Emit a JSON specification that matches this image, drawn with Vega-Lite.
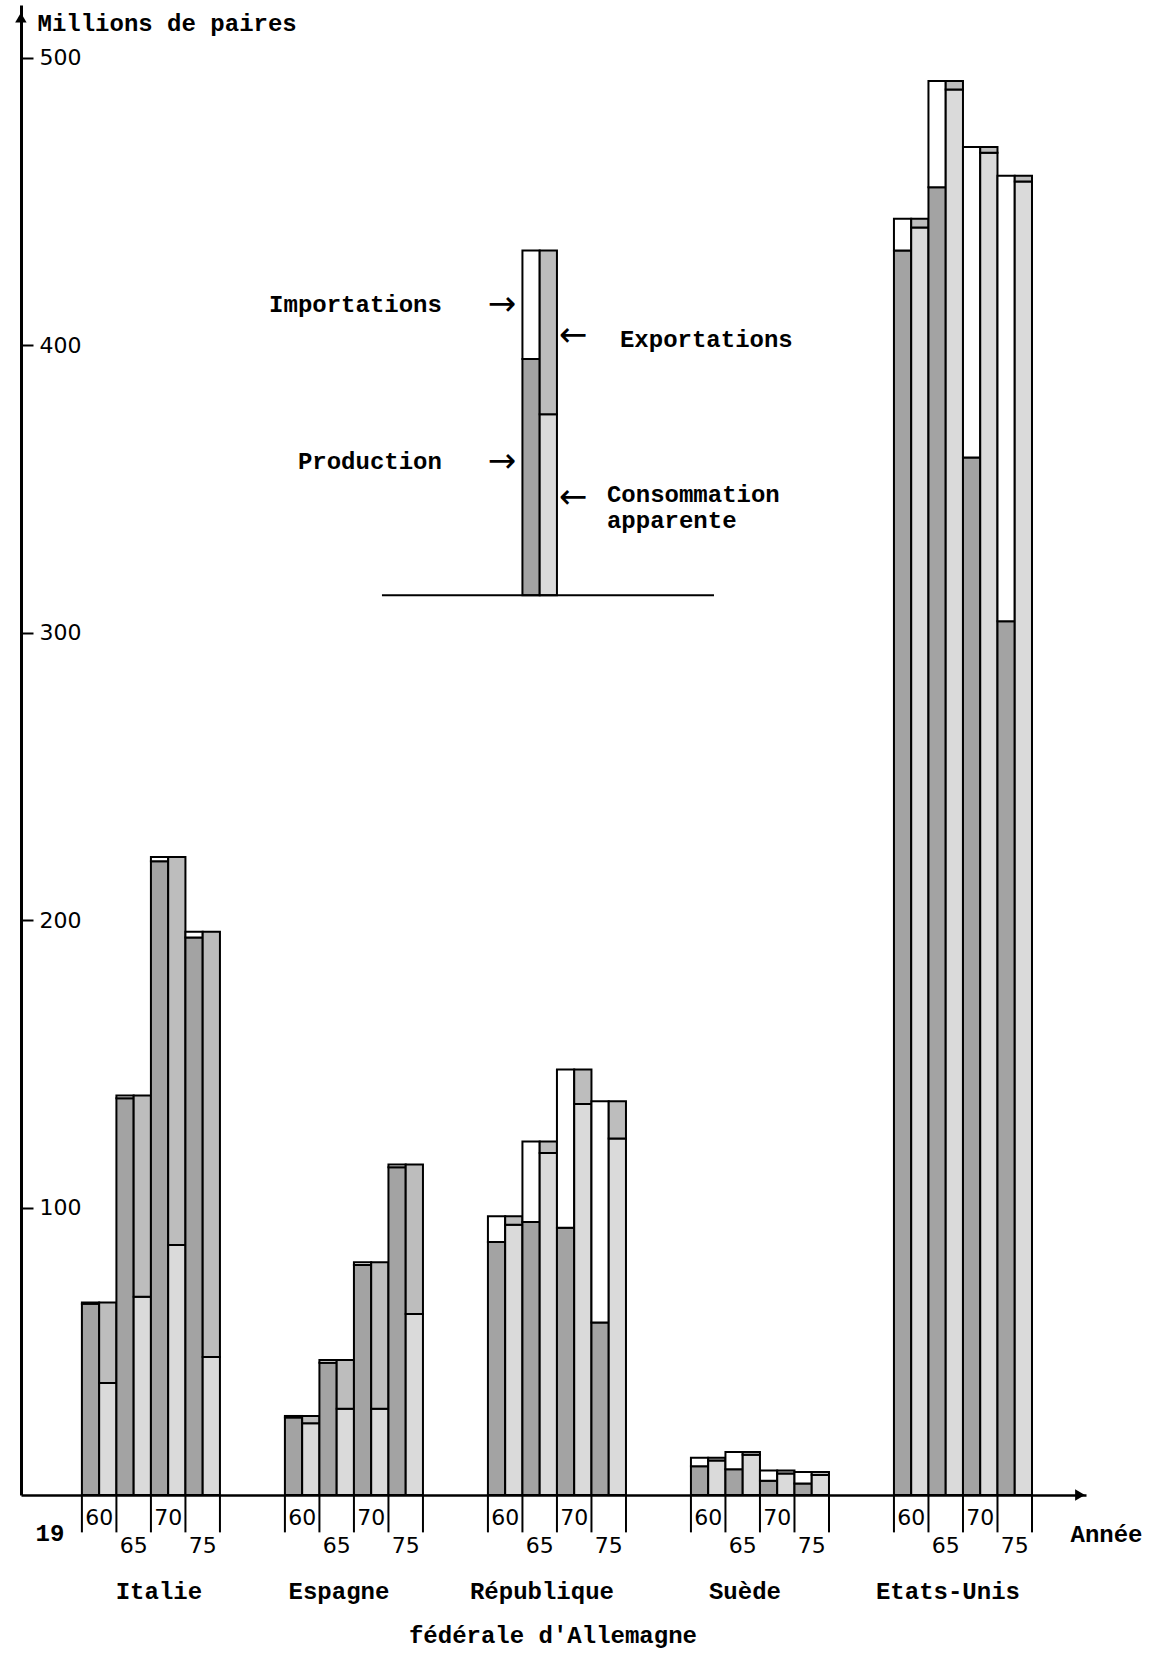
{
  "$schema": "https://vega.github.io/schema/vega-lite/v6.json",
  "width": 1065,
  "height": 1490,
  "autosize": {"type": "none"},
  "padding": {"left": 21, "top": 5, "right": 65, "bottom": 158},
  "background": "white",
  "config": {"view": {"stroke": null}, "axis": {"grid": false}},
  "datasets": {
    "bars": [
      {"country": "Italie", "slot": "1960 P", "component": "Production", "part": "a", "value": 66.5},
      {"country": "Italie", "slot": "1960 P", "component": "Importations", "part": "b", "value": 0.5},
      {"country": "Italie", "slot": "1960 C", "component": "Consommation apparente", "part": "a", "value": 39},
      {"country": "Italie", "slot": "1960 C", "component": "Exportations", "part": "b", "value": 28},
      {"country": "Italie", "slot": "1965 P", "component": "Production", "part": "a", "value": 138},
      {"country": "Italie", "slot": "1965 P", "component": "Importations", "part": "b", "value": 1},
      {"country": "Italie", "slot": "1965 C", "component": "Consommation apparente", "part": "a", "value": 69},
      {"country": "Italie", "slot": "1965 C", "component": "Exportations", "part": "b", "value": 70},
      {"country": "Italie", "slot": "1970 P", "component": "Production", "part": "a", "value": 220.5},
      {"country": "Italie", "slot": "1970 P", "component": "Importations", "part": "b", "value": 1.5},
      {"country": "Italie", "slot": "1970 C", "component": "Consommation apparente", "part": "a", "value": 87},
      {"country": "Italie", "slot": "1970 C", "component": "Exportations", "part": "b", "value": 135},
      {"country": "Italie", "slot": "1975 P", "component": "Production", "part": "a", "value": 194},
      {"country": "Italie", "slot": "1975 P", "component": "Importations", "part": "b", "value": 2},
      {"country": "Italie", "slot": "1975 C", "component": "Consommation apparente", "part": "a", "value": 48},
      {"country": "Italie", "slot": "1975 C", "component": "Exportations", "part": "b", "value": 148},

      {"country": "Espagne", "slot": "1960 P", "component": "Production", "part": "a", "value": 27},
      {"country": "Espagne", "slot": "1960 P", "component": "Importations", "part": "b", "value": 0.5},
      {"country": "Espagne", "slot": "1960 C", "component": "Consommation apparente", "part": "a", "value": 25},
      {"country": "Espagne", "slot": "1960 C", "component": "Exportations", "part": "b", "value": 2.5},
      {"country": "Espagne", "slot": "1965 P", "component": "Production", "part": "a", "value": 46},
      {"country": "Espagne", "slot": "1965 P", "component": "Importations", "part": "b", "value": 1},
      {"country": "Espagne", "slot": "1965 C", "component": "Consommation apparente", "part": "a", "value": 30},
      {"country": "Espagne", "slot": "1965 C", "component": "Exportations", "part": "b", "value": 17},
      {"country": "Espagne", "slot": "1970 P", "component": "Production", "part": "a", "value": 80},
      {"country": "Espagne", "slot": "1970 P", "component": "Importations", "part": "b", "value": 1},
      {"country": "Espagne", "slot": "1970 C", "component": "Consommation apparente", "part": "a", "value": 30},
      {"country": "Espagne", "slot": "1970 C", "component": "Exportations", "part": "b", "value": 51},
      {"country": "Espagne", "slot": "1975 P", "component": "Production", "part": "a", "value": 114},
      {"country": "Espagne", "slot": "1975 P", "component": "Importations", "part": "b", "value": 1},
      {"country": "Espagne", "slot": "1975 C", "component": "Consommation apparente", "part": "a", "value": 63},
      {"country": "Espagne", "slot": "1975 C", "component": "Exportations", "part": "b", "value": 52},

      {"country": "République fédérale d'Allemagne", "slot": "1960 P", "component": "Production", "part": "a", "value": 88},
      {"country": "République fédérale d'Allemagne", "slot": "1960 P", "component": "Importations", "part": "b", "value": 9},
      {"country": "République fédérale d'Allemagne", "slot": "1960 C", "component": "Consommation apparente", "part": "a", "value": 94},
      {"country": "République fédérale d'Allemagne", "slot": "1960 C", "component": "Exportations", "part": "b", "value": 3},
      {"country": "République fédérale d'Allemagne", "slot": "1965 P", "component": "Production", "part": "a", "value": 95},
      {"country": "République fédérale d'Allemagne", "slot": "1965 P", "component": "Importations", "part": "b", "value": 28},
      {"country": "République fédérale d'Allemagne", "slot": "1965 C", "component": "Consommation apparente", "part": "a", "value": 119},
      {"country": "République fédérale d'Allemagne", "slot": "1965 C", "component": "Exportations", "part": "b", "value": 4},
      {"country": "République fédérale d'Allemagne", "slot": "1970 P", "component": "Production", "part": "a", "value": 93},
      {"country": "République fédérale d'Allemagne", "slot": "1970 P", "component": "Importations", "part": "b", "value": 55},
      {"country": "République fédérale d'Allemagne", "slot": "1970 C", "component": "Consommation apparente", "part": "a", "value": 136},
      {"country": "République fédérale d'Allemagne", "slot": "1970 C", "component": "Exportations", "part": "b", "value": 12},
      {"country": "République fédérale d'Allemagne", "slot": "1975 P", "component": "Production", "part": "a", "value": 60},
      {"country": "République fédérale d'Allemagne", "slot": "1975 P", "component": "Importations", "part": "b", "value": 77},
      {"country": "République fédérale d'Allemagne", "slot": "1975 C", "component": "Consommation apparente", "part": "a", "value": 124},
      {"country": "République fédérale d'Allemagne", "slot": "1975 C", "component": "Exportations", "part": "b", "value": 13},

      {"country": "Suède", "slot": "1960 P", "component": "Production", "part": "a", "value": 10},
      {"country": "Suède", "slot": "1960 P", "component": "Importations", "part": "b", "value": 3},
      {"country": "Suède", "slot": "1960 C", "component": "Consommation apparente", "part": "a", "value": 12},
      {"country": "Suède", "slot": "1960 C", "component": "Exportations", "part": "b", "value": 1},
      {"country": "Suède", "slot": "1965 P", "component": "Production", "part": "a", "value": 9},
      {"country": "Suède", "slot": "1965 P", "component": "Importations", "part": "b", "value": 6},
      {"country": "Suède", "slot": "1965 C", "component": "Consommation apparente", "part": "a", "value": 14},
      {"country": "Suède", "slot": "1965 C", "component": "Exportations", "part": "b", "value": 1},
      {"country": "Suède", "slot": "1970 P", "component": "Production", "part": "a", "value": 5},
      {"country": "Suède", "slot": "1970 P", "component": "Importations", "part": "b", "value": 3.5},
      {"country": "Suède", "slot": "1970 C", "component": "Consommation apparente", "part": "a", "value": 7.5},
      {"country": "Suède", "slot": "1970 C", "component": "Exportations", "part": "b", "value": 1},
      {"country": "Suède", "slot": "1975 P", "component": "Production", "part": "a", "value": 4},
      {"country": "Suède", "slot": "1975 P", "component": "Importations", "part": "b", "value": 4},
      {"country": "Suède", "slot": "1975 C", "component": "Consommation apparente", "part": "a", "value": 7},
      {"country": "Suède", "slot": "1975 C", "component": "Exportations", "part": "b", "value": 1},

      {"country": "Etats-Unis", "slot": "1960 P", "component": "Production", "part": "a", "value": 433},
      {"country": "Etats-Unis", "slot": "1960 P", "component": "Importations", "part": "b", "value": 11},
      {"country": "Etats-Unis", "slot": "1960 C", "component": "Consommation apparente", "part": "a", "value": 441},
      {"country": "Etats-Unis", "slot": "1960 C", "component": "Exportations", "part": "b", "value": 3},
      {"country": "Etats-Unis", "slot": "1965 P", "component": "Production", "part": "a", "value": 455},
      {"country": "Etats-Unis", "slot": "1965 P", "component": "Importations", "part": "b", "value": 37},
      {"country": "Etats-Unis", "slot": "1965 C", "component": "Consommation apparente", "part": "a", "value": 489},
      {"country": "Etats-Unis", "slot": "1965 C", "component": "Exportations", "part": "b", "value": 3},
      {"country": "Etats-Unis", "slot": "1970 P", "component": "Production", "part": "a", "value": 361},
      {"country": "Etats-Unis", "slot": "1970 P", "component": "Importations", "part": "b", "value": 108},
      {"country": "Etats-Unis", "slot": "1970 C", "component": "Consommation apparente", "part": "a", "value": 467},
      {"country": "Etats-Unis", "slot": "1970 C", "component": "Exportations", "part": "b", "value": 2},
      {"country": "Etats-Unis", "slot": "1975 P", "component": "Production", "part": "a", "value": 304},
      {"country": "Etats-Unis", "slot": "1975 P", "component": "Importations", "part": "b", "value": 155},
      {"country": "Etats-Unis", "slot": "1975 C", "component": "Consommation apparente", "part": "a", "value": 457},
      {"country": "Etats-Unis", "slot": "1975 C", "component": "Exportations", "part": "b", "value": 2}
    ],
    "legendBars": [
      {"country": "République fédérale d'Allemagne", "slot": "1965 P", "component": "Production", "lo": 313, "hi": 395.2},
      {"country": "République fédérale d'Allemagne", "slot": "1965 P", "component": "Importations", "lo": 395.2, "hi": 433},
      {"country": "République fédérale d'Allemagne", "slot": "1965 C", "component": "Consommation apparente", "lo": 313, "hi": 376},
      {"country": "République fédérale d'Allemagne", "slot": "1965 C", "component": "Exportations", "lo": 376, "hi": 433}
    ],
    "legendLeft": [{"label": "Importations", "v": 414}, {"label": "Production", "v": 359.5}],
    "legendExp": [{"label": "Exportations", "v": 402}],
    "legendCons": [{"label": "Consommation", "v": 348}, {"label": "apparente", "v": 338.7}],
    "arrowsR": [{"v": 414}, {"v": 359.5}],
    "arrowsL": [{"v": 403.3}, {"v": 346.9}],
    "countries": [
      {"country": "Italie", "label": "Italie"},
      {"country": "Espagne", "label": "Espagne"},
      {"country": "République fédérale d'Allemagne", "label": "République"},
      {"country": "Suède", "label": "Suède"},
      {"country": "Etats-Unis", "label": "Etats-Unis"}
    ],
    "countriesRest": [
      {"country": "Espagne", "label": "Espagne"},
      {"country": "République fédérale d'Allemagne", "label": "République"},
      {"country": "Suède", "label": "Suède"},
      {"country": "Etats-Unis", "label": "Etats-Unis"}
    ]
  },
  "layer": [
    {
      "data": {"name": "bars"},
      "mark": {"type": "bar", "stroke": "black", "strokeWidth": 2},
      "encoding": {
        "x": {
          "field": "country", "type": "nominal",
          "scale": {"type": "band", "domain": ["Italie", "Espagne", "République fédérale d'Allemagne", "Suède", "Etats-Unis"], "paddingInner": 0.32, "paddingOuter": 0.283, "align": 0.53},
          "axis": {"title": "Année", "titleX": 1049, "titleY": 39, "titleAlign": "left", "titleBaseline": "middle", "titleFont": "Liberation Mono", "titleFontSize": 24, "titleFontWeight": "bold", "titleColor": "black", "labels": false, "ticks": false, "domainColor": "black", "domainWidth": 2.5}
        },
        "xOffset": {
          "field": "slot", "type": "nominal",
          "scale": {"domain": ["1960 P", "1960 C", "1965 P", "1965 C", "1970 P", "1970 C", "1975 P", "1975 C"], "paddingInner": 0, "paddingOuter": 0}
        },
        "y": {
          "field": "value", "type": "quantitative", "stack": "zero",
          "scale": {"domain": [0, 518.4], "nice": false, "zero": false},
          "axis": {"title": "Millions de paires", "titleAngle": 0, "titleAlign": "left", "titleBaseline": "middle", "titleX": 16, "titleY": 18, "titleFont": "Liberation Mono", "titleFontSize": 24, "titleFontWeight": "bold", "titleColor": "black", "values": [100, 200, 300, 400, 500], "labelFont": "DejaVu Sans", "labelFontSize": 22, "labelColor": "black", "labelAlign": "left", "labelBaseline": "middle", "labelPadding": -6, "tickSize": -12, "tickColor": "black", "tickWidth": 2, "domainColor": "black", "domainWidth": 3}
        },
        "color": {
          "field": "component", "type": "nominal",
          "scale": {"domain": ["Production", "Importations", "Consommation apparente", "Exportations"], "range": ["#a3a3a3", "#ffffff", "#dadada", "#bdbdbd"]},
          "legend": null
        },
        "order": {"field": "part", "sort": "ascending"}
      }
    },
    {
      "data": {"name": "legendBars"},
      "mark": {"type": "bar", "stroke": "black", "strokeWidth": 2},
      "encoding": {
        "x": {"field": "country", "type": "nominal"},
        "xOffset": {"field": "slot", "type": "nominal"},
        "y": {"field": "lo", "type": "quantitative", "scale": {"domain": [0, 518.4], "nice": false, "zero": false}},
        "y2": {"field": "hi"},
        "color": {"field": "component", "type": "nominal", "legend": null}
      }
    },
    {
      "data": {"values": [{"a": "Espagne", "b": "Suède", "v": 313}]},
      "mark": {"type": "rule", "color": "black", "strokeWidth": 2},
      "encoding": {
        "x": {"field": "a", "type": "nominal", "bandPosition": 0.703},
        "x2": {"field": "b", "bandPosition": 0.167},
        "y": {"field": "v", "type": "quantitative", "scale": {"domain": [0, 518.4], "nice": false, "zero": false}}
      }
    },
    {
      "data": {"name": "legendLeft"},
      "mark": {"type": "text", "align": "right", "baseline": "middle", "dx": -46, "font": "Liberation Mono", "fontSize": 24, "fontWeight": "bold", "color": "black"},
      "encoding": {
        "x": {"datum": "République fédérale d'Allemagne", "type": "nominal", "bandPosition": 0},
        "y": {"field": "v", "type": "quantitative", "scale": {"domain": [0, 518.4], "nice": false, "zero": false}},
        "text": {"field": "label"}
      }
    },
    {
      "data": {"name": "legendExp"},
      "mark": {"type": "text", "align": "left", "baseline": "middle", "dx": 132, "font": "Liberation Mono", "fontSize": 24, "fontWeight": "bold", "color": "black"},
      "encoding": {
        "x": {"datum": "République fédérale d'Allemagne", "type": "nominal", "bandPosition": 0},
        "y": {"field": "v", "type": "quantitative", "scale": {"domain": [0, 518.4], "nice": false, "zero": false}},
        "text": {"field": "label"}
      }
    },
    {
      "data": {"name": "legendCons"},
      "mark": {"type": "text", "align": "left", "baseline": "middle", "dx": 119, "font": "Liberation Mono", "fontSize": 24, "fontWeight": "bold", "color": "black"},
      "encoding": {
        "x": {"datum": "République fédérale d'Allemagne", "type": "nominal", "bandPosition": 0},
        "y": {"field": "v", "type": "quantitative", "scale": {"domain": [0, 518.4], "nice": false, "zero": false}},
        "text": {"field": "label"}
      }
    },
    {
      "data": {"name": "arrowsR"},
      "mark": {"type": "text", "align": "center", "baseline": "middle", "dx": 14, "font": "DejaVu Sans", "fontSize": 34, "color": "black"},
      "encoding": {
        "x": {"datum": "République fédérale d'Allemagne", "type": "nominal", "bandPosition": 0},
        "y": {"field": "v", "type": "quantitative", "scale": {"domain": [0, 518.4], "nice": false, "zero": false}},
        "text": {"value": "→"}
      }
    },
    {
      "data": {"name": "arrowsL"},
      "mark": {"type": "text", "align": "center", "baseline": "middle", "dx": 85, "font": "DejaVu Sans", "fontSize": 34, "color": "black"},
      "encoding": {
        "x": {"datum": "République fédérale d'Allemagne", "type": "nominal", "bandPosition": 0},
        "y": {"field": "v", "type": "quantitative", "scale": {"domain": [0, 518.4], "nice": false, "zero": false}},
        "text": {"value": "←"}
      }
    },
    {
      "data": {"name": "countries"},
      "mark": {"type": "rule", "color": "black", "strokeWidth": 2},
      "encoding": {"x": {"field": "country", "type": "nominal", "bandPosition": 0}, "y": {"datum": 0, "type": "quantitative", "scale": {"domain": [0, 518.4], "nice": false, "zero": false}}, "y2": {"datum": -13}}
    },
    {
      "data": {"name": "countries"},
      "mark": {"type": "rule", "color": "black", "strokeWidth": 2},
      "encoding": {"x": {"field": "country", "type": "nominal", "bandPosition": 0.25}, "y": {"datum": 0, "type": "quantitative", "scale": {"domain": [0, 518.4], "nice": false, "zero": false}}, "y2": {"datum": -13}}
    },
    {
      "data": {"name": "countries"},
      "mark": {"type": "rule", "color": "black", "strokeWidth": 2},
      "encoding": {"x": {"field": "country", "type": "nominal", "bandPosition": 0.5}, "y": {"datum": 0, "type": "quantitative", "scale": {"domain": [0, 518.4], "nice": false, "zero": false}}, "y2": {"datum": -13}}
    },
    {
      "data": {"name": "countries"},
      "mark": {"type": "rule", "color": "black", "strokeWidth": 2},
      "encoding": {"x": {"field": "country", "type": "nominal", "bandPosition": 0.75}, "y": {"datum": 0, "type": "quantitative", "scale": {"domain": [0, 518.4], "nice": false, "zero": false}}, "y2": {"datum": -13}}
    },
    {
      "data": {"name": "countries"},
      "mark": {"type": "rule", "color": "black", "strokeWidth": 2},
      "encoding": {"x": {"field": "country", "type": "nominal", "bandPosition": 1}, "y": {"datum": 0, "type": "quantitative", "scale": {"domain": [0, 518.4], "nice": false, "zero": false}}, "y2": {"datum": -13}}
    },
    {
      "data": {"name": "countries"},
      "mark": {"type": "text", "align": "center", "baseline": "middle", "font": "DejaVu Sans", "fontSize": 22, "color": "black"},
      "encoding": {"x": {"field": "country", "type": "nominal", "bandPosition": 0.125}, "y": {"datum": -8, "type": "quantitative", "scale": {"domain": [0, 518.4], "nice": false, "zero": false}}, "text": {"value": "60"}}
    },
    {
      "data": {"name": "countries"},
      "mark": {"type": "text", "align": "center", "baseline": "middle", "font": "DejaVu Sans", "fontSize": 22, "color": "black"},
      "encoding": {"x": {"field": "country", "type": "nominal", "bandPosition": 0.375}, "y": {"datum": -17.8, "type": "quantitative", "scale": {"domain": [0, 518.4], "nice": false, "zero": false}}, "text": {"value": "65"}}
    },
    {
      "data": {"name": "countries"},
      "mark": {"type": "text", "align": "center", "baseline": "middle", "font": "DejaVu Sans", "fontSize": 22, "color": "black"},
      "encoding": {"x": {"field": "country", "type": "nominal", "bandPosition": 0.625}, "y": {"datum": -8, "type": "quantitative", "scale": {"domain": [0, 518.4], "nice": false, "zero": false}}, "text": {"value": "70"}}
    },
    {
      "data": {"name": "countries"},
      "mark": {"type": "text", "align": "center", "baseline": "middle", "font": "DejaVu Sans", "fontSize": 22, "color": "black"},
      "encoding": {"x": {"field": "country", "type": "nominal", "bandPosition": 0.875}, "y": {"datum": -17.8, "type": "quantitative", "scale": {"domain": [0, 518.4], "nice": false, "zero": false}}, "text": {"value": "75"}}
    },
    {
      "data": {"values": [{"country": "Italie", "label": "Italie"}]},
      "mark": {"type": "text", "align": "center", "baseline": "middle", "dx": 8, "font": "Liberation Mono", "fontSize": 24, "fontWeight": "bold", "color": "black"},
      "encoding": {"x": {"field": "country", "type": "nominal", "bandPosition": 0.5}, "y": {"datum": -33.7, "type": "quantitative", "scale": {"domain": [0, 518.4], "nice": false, "zero": false}}, "text": {"field": "label"}}
    },
    {
      "data": {"name": "countriesRest"},
      "mark": {"type": "text", "align": "center", "baseline": "middle", "dx": -15, "font": "Liberation Mono", "fontSize": 24, "fontWeight": "bold", "color": "black"},
      "encoding": {"x": {"field": "country", "type": "nominal", "bandPosition": 0.5}, "y": {"datum": -33.7, "type": "quantitative", "scale": {"domain": [0, 518.4], "nice": false, "zero": false}}, "text": {"field": "label"}}
    },
    {
      "data": {"values": [{"country": "République fédérale d'Allemagne", "label": "fédérale d'Allemagne"}]},
      "mark": {"type": "text", "align": "center", "baseline": "middle", "dx": -4, "font": "Liberation Mono", "fontSize": 24, "fontWeight": "bold", "color": "black"},
      "encoding": {"x": {"field": "country", "type": "nominal", "bandPosition": 0.5}, "y": {"datum": -49, "type": "quantitative", "scale": {"domain": [0, 518.4], "nice": false, "zero": false}}, "text": {"field": "label"}}
    },
    {
      "data": {"values": [{"country": "Italie", "label": "19"}]},
      "mark": {"type": "text", "align": "center", "baseline": "middle", "dx": -32, "font": "Liberation Mono", "fontSize": 24, "fontWeight": "bold", "color": "black"},
      "encoding": {"x": {"field": "country", "type": "nominal", "bandPosition": 0}, "y": {"datum": -13.6, "type": "quantitative", "scale": {"domain": [0, 518.4], "nice": false, "zero": false}}, "text": {"field": "label"}}
    },
    {
      "data": {"values": [{"country": "Italie"}]},
      "mark": {"type": "point", "shape": "triangle-up", "filled": true, "color": "black", "size": 130, "opacity": 1},
      "encoding": {"x": {"field": "country", "type": "nominal", "bandPosition": -0.442}, "y": {"datum": 514, "type": "quantitative", "scale": {"domain": [0, 518.4], "nice": false, "zero": false}}}
    },
    {
      "data": {"values": [{"country": "Etats-Unis"}]},
      "mark": {"type": "point", "shape": "triangle-right", "filled": true, "color": "black", "size": 130, "opacity": 1},
      "encoding": {"x": {"field": "country", "type": "nominal", "bandPosition": 1.348}, "y": {"datum": 0, "type": "quantitative", "scale": {"domain": [0, 518.4], "nice": false, "zero": false}}}
    }
  ]
}
